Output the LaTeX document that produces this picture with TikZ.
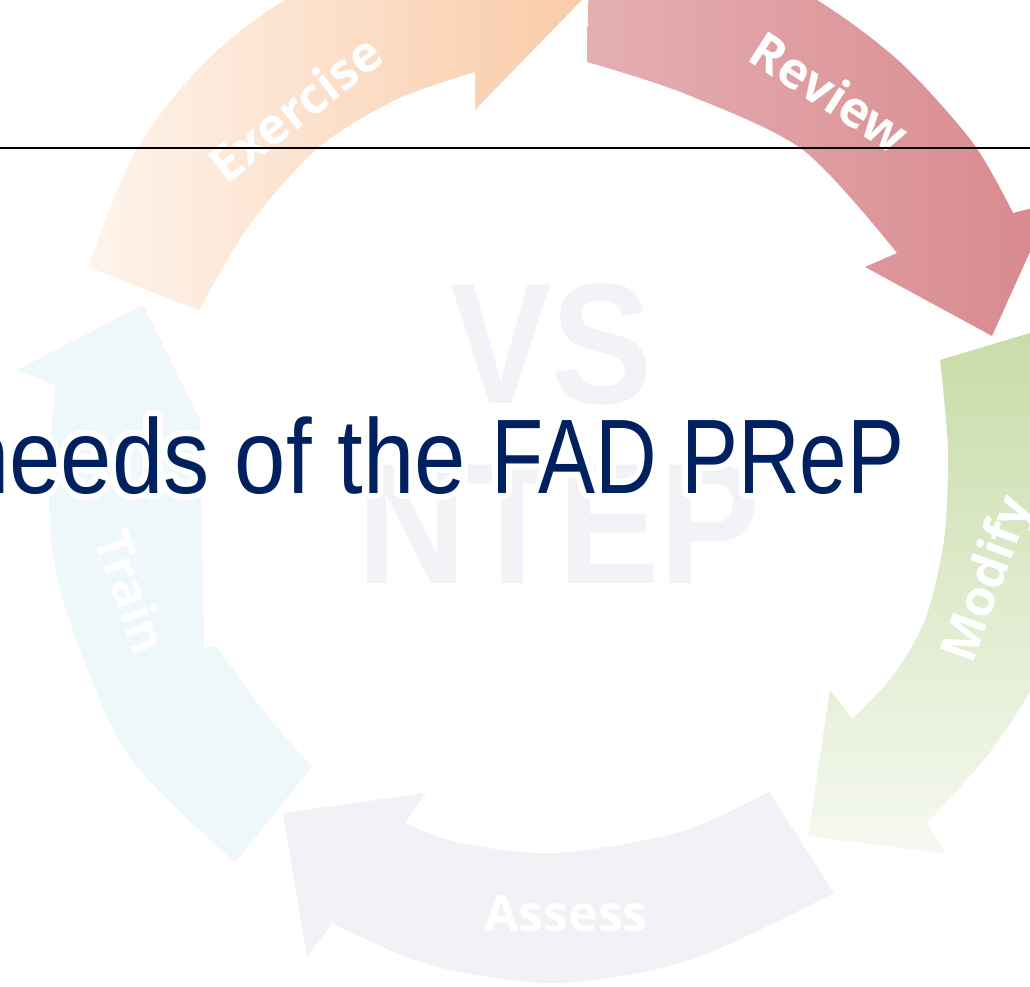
\documentclass[tikz,border=0pt]{standalone}
\usepackage{fontspec}
\setmainfont{Liberation Sans}
\newfontfamily\lblfont{Open Sans}
\usetikzlibrary{calc}
\definecolor{navy}{HTML}{00215F}
\definecolor{exhead}{HTML}{F9C6A0}
\definecolor{extail}{HTML}{FEF4EC}
\definecolor{rvlight}{HTML}{E5AFB2}
\definecolor{rvmid}{HTML}{D8898D}
\definecolor{mdtop}{HTML}{C7DBA6}
\definecolor{mdbot}{HTML}{F6F9F1}
\definecolor{asfill}{HTML}{F2F1F6}
\definecolor{trfill}{HTML}{EEF7F9}
\definecolor{vsgray}{HTML}{F2F3F6}
\tikzset{
  lbl/.style={text=white, font=\lblfont\bfseries\fontsize{50}{60}\selectfont, inner sep=0pt},
  vsstyle/.style={text=vsgray, font=\bfseries\fontsize{172}{180}\selectfont, inner sep=0pt, anchor=base},
  titlestyle/.style={text=navy, font=\fontsize{106}{120}\selectfont, inner sep=0pt, anchor=base west},
  rule/.style={draw=black, line width=1.3pt},
}
\newcommand{\titletext}{\scalebox{0.87}[1]{needs of the }\scalebox{0.806}[1]{FAD PReP}}
\begin{document}
\begin{tikzpicture}[x=1pt,y=-1pt]
\useasboundingbox (0,0) rectangle (1030,987);
\clip (0,0) rectangle (1030,987);
\fill[white] (0,0) rectangle (1030,987);

% Exercise (orange)
\shade[left color=extail, right color=exhead]
  (88,267) -- plot[smooth] coordinates {(199,310) (250,224) (318,148) (395,100) (475,72)}
  -- (475,110) -- (640,-60) -- (470,-150) -- (440,-70)
  -- plot[smooth] coordinates {(440,-70) (370,-35) (285,0) (205,62) (136,150) (88,267)} -- cycle;

% Review (red)
\shade[left color=rvlight, right color=rvmid]
  (590,-80) -- plot[smooth] coordinates {(587,62) (683,93) (803,150) (897,253)}
  -- (865,267) -- (992,336) -- (1052,203) -- (1013,213)
  -- plot[smooth] coordinates {(1013,213) (973,143) (900,62) (817,0) (710,-55) (590,-80)} -- cycle;

% Modify (green)
\shade[top color=mdtop, bottom color=mdbot]
  (940,360) -- plot[smooth] coordinates {(940,360) (948,450) (944,540) (925,620) (892,677) (852,719)}
  -- (830,690) -- (808,836) -- (946,854) -- (927,823)
  -- plot[smooth] coordinates {(927,823) (990,752) (1040,672) (1072,570) (1085,450) (1080,318)} -- cycle;

% Assess (lavender)
\fill[asfill]
  (769,792) -- plot[smooth] coordinates {(769,792) (680,832) (556,853) (460,843) (405,823)}
  -- (426,793) -- (283,813) -- (307,957) -- (332,923)
  -- plot[smooth] coordinates {(332,923) (430,965) (556,983) (690,960) (834,893)} -- cycle;

% Train (light blue)
\fill[trfill]
  (312,767) -- plot[smooth] coordinates {(312,767) (265,713) (217,647)}
  -- (204,647) -- (200,420) -- (143,305) -- (17,370) -- (55,385)
  -- plot[smooth] coordinates {(55,385) (49,500) (63,600) (127,753) (235,862)} -- cycle;

% arrow labels
\node[lbl, rotate=38] (lex) at (295,108) {Exercise};
\node[lbl, rotate=-33] (lrv) at (830,92) {Review};
\node[lbl, rotate=70] (lmd) at (990,580) {Modify};
\node[lbl] (las) at (566,914) {Assess};
\node[lbl, rotate=-71] (ltr) at (132,592) {Train};

% watermark
\node[vsstyle] (vs) at (551,403) {\scalebox{0.88}[1]{VS}};
\node[vsstyle] (ntep) at (559,583) {\scalebox{0.88}[1]{NTEP}};

% title glow and title
\foreach \a in {0,30,...,330} {
  \node[titlestyle, text=white] (glow\a) at ($(-42,493)+(\a:6)$) {\titletext};
}
\node[titlestyle] (title) at (-42,493) {\titletext};

% rule
\coordinate (rl) at (0,148);
\coordinate (rr) at (1030,148);
\draw[rule] (rl) -- (rr);
\end{tikzpicture}
\end{document}
